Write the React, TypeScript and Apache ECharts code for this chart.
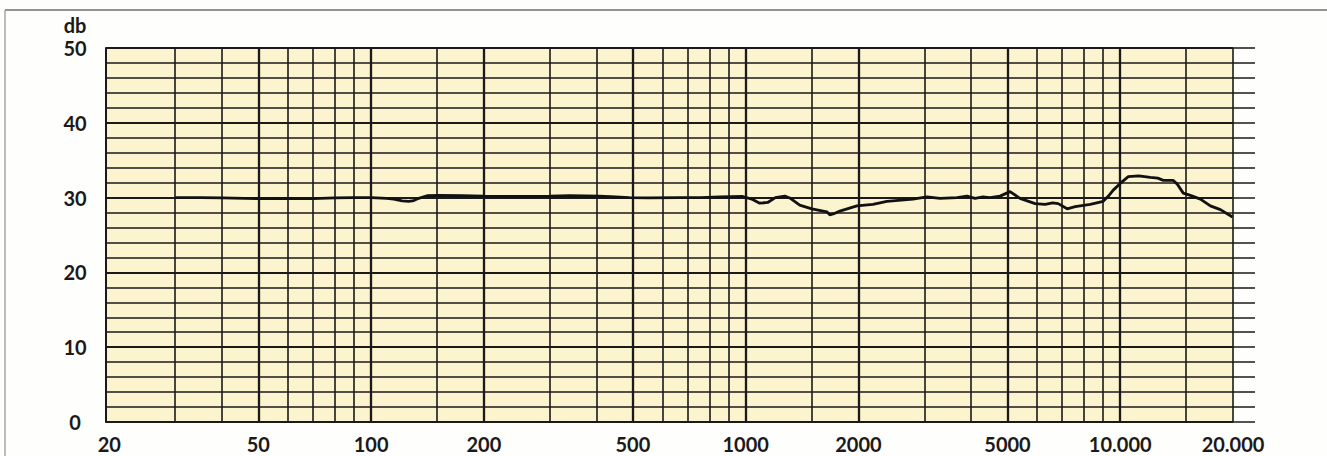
import React, { useEffect, useRef } from "react";
import * as echarts from "echarts";

// Frequency response curve (Hz, dB)
const curveFreqs = [
  30, 35, 40, 50, 60, 70, 80, 90, 100, 110, 115, 121, 126, 130, 134, 141, 152, 175, 200, 249,
  300, 338, 407, 450, 489, 550, 666, 760, 852, 982, 1038, 1090, 1145, 1200, 1272, 1311, 1394,
  1502, 1647, 1677, 1720, 1784, 1981, 2186, 2382, 2796, 3048, 3302, 3666, 3898, 4096, 4300,
  4492, 4776, 5080, 5400, 5925, 6303, 6600, 6830, 7216, 7580, 8313, 9007, 9300, 9578, 10000,
  10505, 11200, 12030, 12600, 13030, 13860, 14200, 14730, 15390, 16370, 17400, 18510, 19930,
];
const curveDb = [
  30.0, 30.0, 29.95, 29.85, 29.9, 29.85, 29.95, 30.0, 30.0, 29.9, 29.8, 29.55, 29.5, 29.6, 29.9,
  30.25, 30.3, 30.25, 30.2, 30.15, 30.2, 30.25, 30.2, 30.1, 30.0, 29.95, 30.0, 30.0, 30.1,
  30.15, 29.8, 29.25, 29.35, 30.0, 30.2, 29.95, 29.0, 28.5, 28.1, 27.7, 27.85, 28.2, 28.9, 29.1,
  29.5, 29.8, 30.1, 29.9, 30.0, 30.2, 29.9, 30.1, 30.0, 30.2, 30.8, 29.9, 29.2, 29.1, 29.3,
  29.2, 28.5, 28.8, 29.1, 29.5, 30.2, 31.0, 31.9, 32.8, 32.9, 32.7, 32.6, 32.3, 32.3, 31.8,
  30.6, 30.3, 29.8, 28.9, 28.4, 27.4,
];

// Vertical grid lines (Hz)
const gridFreqs = [
  30, 40, 50, 60, 70, 80, 90, 100, 150, 200, 300, 400, 500, 600, 700, 800, 900, 1000, 1500,
  2000, 3000, 4000, 5000, 6000, 7000, 8000, 9000, 10000, 15000, 20000,
];
const majorFreqs = [50, 100, 200, 500, 1000, 2000, 5000, 10000];

// X tick labels
const xLabelFreqs = [20, 50, 100, 200, 500, 1000, 2000, 5000, 10000, 20000];
const xLabelTexts = ["20", "50", "100", "200", "500", "1000", "2000", "5000", "10.000", "20.000"];

// Y axis
const yMin = 0;
const yMax = 50;
const yStep = 2;
const yMajor = [0, 10, 20, 30, 40, 50];
const yUnit = "db";

const INK = "#1b1919";
const FONT = "Lato, 'DejaVu Sans', sans-serif";

export default function App() {
  const ref = useRef<HTMLDivElement>(null);

  useEffect(() => {
    if (!ref.current) return;
    const chart = echarts.init(ref.current, null, { renderer: "svg" });
    const labelStyle = { fontFamily: FONT, fontSize: 20, fontWeight: 700, color: INK };

    chart.setOption({
      animation: false,
      backgroundColor: "#fefefc",
      grid: {
        left: 106,
        right: 94,
        top: 48,
        bottom: 34,
        show: true,
        backgroundColor: "#fcf3cf",
        borderWidth: 0,
      },
      xAxis: {
        type: "log",
        logBase: 10,
        min: 19.6,
        max: 20000,
        axisLine: { show: false },
        axisTick: { show: false },
        axisLabel: { show: false },
        splitLine: { show: false },
        minorSplitLine: { show: false },
      },
      yAxis: [
        {
          type: "value",
          min: yMin,
          max: yMax,
          interval: yStep,
          axisLine: { show: true, lineStyle: { color: INK, width: 2 } },
          axisTick: { show: false },
          axisLabel: {
            ...labelStyle,
            align: "center",
            margin: 31,
            formatter: (v: number) => (v % 10 === 0 ? String(v) : ""),
          },
          splitLine: { show: true, lineStyle: { color: INK, width: 1.5 } },
        },
        {
          type: "value",
          position: "right",
          min: yMin,
          max: yMax,
          interval: yStep,
          axisLine: { show: false },
          axisTick: { show: true, inside: false, length: 22, lineStyle: { color: INK, width: 1.5 } },
          axisLabel: { show: false },
          splitLine: { show: false },
        },
      ],
      graphic: [
        {
          type: "line",
          shape: { x1: 5, y1: 10, x2: 1327, y2: 10 },
          style: { stroke: "#6f6f6f", lineWidth: 1.6 },
        },
        {
          type: "line",
          shape: { x1: 5, y1: 10, x2: 5, y2: 456 },
          style: { stroke: "#9a9a9a", lineWidth: 1.3 },
        },
        {
          type: "text",
          x: 75,
          y: 25,
          style: {
            text: yUnit,
            fill: INK,
            font: `700 20px ${FONT}`,
            textAlign: "center",
            textVerticalAlign: "middle",
          },
        },
      ],
      series: [
        {
          name: "grid",
          type: "line",
          data: [],
          z: 1,
          silent: true,
          markLine: {
            silent: true,
            symbol: "none",
            label: { show: false },
            data: [
              ...gridFreqs.map((f) => ({
                xAxis: f,
                lineStyle: {
                  color: INK,
                  type: "solid",
                  width: majorFreqs.includes(f) ? 2.3 : 1.6,
                },
              })),
              ...yMajor.map((v) => ({
                yAxis: v,
                lineStyle: { color: INK, type: "solid", width: 2.1 },
              })),
            ],
          },
        },
        {
          name: "labels",
          type: "line",
          data: [],
          z: 1,
          silent: true,
          markLine: {
            silent: true,
            symbol: "none",
            lineStyle: { color: "rgba(0,0,0,0)", width: 0 },
            data: xLabelFreqs.map((f, i) => ({
              xAxis: f,
              label: {
                show: true,
                position: "start",
                distance: 12,
                formatter: xLabelTexts[i],
                ...labelStyle,
              },
            })),
          },
        },
        {
          name: "response",
          type: "line",
          z: 5,
          showSymbol: false,
          symbol: "none",
          smooth: false,
          lineStyle: { color: "#111", width: 2.8 },
          data: curveFreqs.map((f, i) => [f, curveDb[i]]),
        },
      ],
    });

    return () => chart.dispose();
  }, []);

  return (
    <div
      ref={ref}
      style={{ position: "fixed", left: 0, top: 0, width: 1327, height: 456 }}
    />
  );
}
